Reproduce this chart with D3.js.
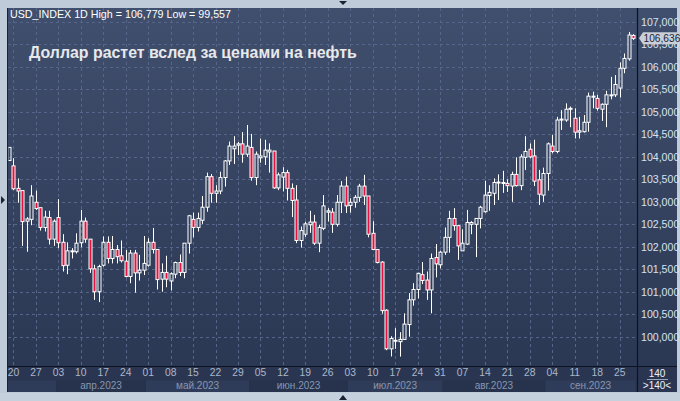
<!DOCTYPE html>
<html><head><meta charset="utf-8">
<script src="https://cdn.jsdelivr.net/npm/d3@7/dist/d3.min.js"></script>
<style>
html,body{margin:0;padding:0;background:#bfcbd9;overflow:hidden;}
svg{display:block;font-family:"Liberation Sans",Arial,sans-serif;}
</style></head><body>
<svg id="c" width="680" height="401"></svg>
<script>
// ---- data ----
const dates = [
"2023-03-17","2023-03-20","2023-03-21","2023-03-22","2023-03-23","2023-03-24","2023-03-27","2023-03-28","2023-03-29","2023-03-30","2023-03-31",
"2023-04-03","2023-04-04","2023-04-05","2023-04-06","2023-04-07","2023-04-10","2023-04-11","2023-04-12","2023-04-13","2023-04-14",
"2023-04-17","2023-04-18","2023-04-19","2023-04-20","2023-04-21","2023-04-24","2023-04-25","2023-04-26","2023-04-27","2023-04-28",
"2023-05-01","2023-05-02","2023-05-03","2023-05-04","2023-05-05","2023-05-08","2023-05-09","2023-05-10","2023-05-11","2023-05-12",
"2023-05-15","2023-05-16","2023-05-17","2023-05-18","2023-05-19","2023-05-22","2023-05-23","2023-05-24","2023-05-25","2023-05-26",
"2023-05-29","2023-05-30","2023-05-31",
"2023-06-01","2023-06-02","2023-06-05","2023-06-06","2023-06-07","2023-06-08","2023-06-09","2023-06-12","2023-06-13","2023-06-14",
"2023-06-15","2023-06-16","2023-06-19","2023-06-20","2023-06-21","2023-06-22","2023-06-23","2023-06-26","2023-06-27","2023-06-28",
"2023-06-29","2023-06-30",
"2023-07-03","2023-07-04","2023-07-05","2023-07-06","2023-07-07","2023-07-10","2023-07-11","2023-07-12","2023-07-13","2023-07-14",
"2023-07-17","2023-07-18","2023-07-19","2023-07-20","2023-07-21","2023-07-24","2023-07-25","2023-07-26","2023-07-27","2023-07-28",
"2023-07-31",
"2023-08-01","2023-08-02","2023-08-03","2023-08-04","2023-08-07","2023-08-08","2023-08-09","2023-08-10","2023-08-11","2023-08-14",
"2023-08-15","2023-08-16","2023-08-17","2023-08-18","2023-08-21","2023-08-22","2023-08-23","2023-08-24","2023-08-25","2023-08-28",
"2023-08-29","2023-08-30","2023-08-31",
"2023-09-01","2023-09-04","2023-09-05","2023-09-06","2023-09-07","2023-09-08","2023-09-11","2023-09-12","2023-09-13","2023-09-14",
"2023-09-15","2023-09-18","2023-09-19","2023-09-20","2023-09-21","2023-09-22","2023-09-25","2023-09-26","2023-09-27","2023-09-28"];

const openP = [103.92,103.80,103.30,103.25,102.57,102.61,102.99,102.87,102.43,102.65,102.17,
102.65,102.10,101.59,101.90,101.89,102.09,102.57,102.17,101.51,101.00,
101.59,102.10,101.74,101.94,101.80,101.68,101.34,101.86,101.42,101.48,
101.59,102.10,101.94,101.28,101.43,101.24,101.39,101.65,101.43,102.08,
102.61,102.43,102.59,102.88,103.56,103.19,103.24,103.54,103.91,104.18,
104.26,104.29,104.06,
104.21,103.54,103.98,104.00,104.11,104.13,103.31,103.55,103.65,103.30,
103.04,102.14,102.28,102.49,102.55,102.08,102.41,102.77,102.77,102.50,
102.99,103.35,
102.92,102.99,103.10,103.35,103.13,102.30,101.94,101.66,100.59,99.73,
99.90,99.89,99.94,100.27,100.82,101.05,101.38,101.26,101.04,101.76,
101.60,
101.88,102.21,102.63,102.47,101.91,102.06,102.50,102.50,102.63,102.78,
103.14,103.19,103.43,103.42,103.41,103.35,103.61,103.36,103.99,104.17,
104.02,103.49,103.15,
103.63,104.24,104.12,104.83,104.82,105.07,104.86,104.55,104.56,104.77,
105.34,105.30,105.06,105.17,105.37,105.38,105.53,105.97,106.18,106.70];

const highP = [104.21,103.97,103.52,103.25,102.66,103.37,103.25,102.87,102.80,102.80,102.61,
103.06,102.28,102.10,101.97,102.30,102.82,102.65,102.17,101.60,101.60,
102.23,102.23,102.24,102.04,102.14,101.93,101.93,101.93,101.82,102.24,
102.19,102.42,101.94,101.63,101.80,101.43,101.67,101.83,102.08,102.71,
102.76,102.76,103.13,103.65,103.62,103.37,103.67,103.93,104.34,104.46,
104.33,104.55,104.71,
104.51,104.12,104.41,104.38,104.30,104.13,103.65,103.77,103.71,103.41,
103.37,102.45,102.56,102.80,102.71,102.49,103.15,102.86,102.86,103.15,
103.46,103.56,
103.08,103.15,103.40,103.60,103.13,102.57,101.94,101.68,100.61,100.01,
100.19,100.10,100.52,100.97,101.19,101.42,101.66,101.45,101.85,102.06,
101.91,
102.43,102.80,102.86,102.47,102.39,102.82,102.57,102.63,102.91,103.47,
103.37,103.52,103.61,103.69,103.50,103.67,103.99,104.06,104.46,104.30,
104.38,103.71,103.76,
104.32,104.49,104.89,105.04,105.19,105.12,105.08,104.89,104.93,105.43,
105.45,105.38,105.19,105.47,105.78,105.82,106.10,106.30,106.779,106.73];

const lowP = [103.92,103.26,102.98,102.02,101.89,102.48,102.82,102.36,102.34,102.05,102.02,
101.97,101.45,101.39,101.74,101.85,101.99,102.09,101.42,100.82,100.77,
101.56,101.63,101.63,101.63,101.65,101.32,101.19,100.98,101.25,101.37,
101.56,101.85,101.05,101.00,101.10,101.03,101.30,101.35,101.30,101.85,
102.21,102.34,102.51,102.78,102.98,102.98,103.17,103.34,103.82,103.84,
104.04,103.87,104.00,
103.47,103.37,103.87,103.82,103.65,103.29,103.26,103.23,103.03,102.66,
102.08,101.98,102.22,102.31,102.04,101.88,102.37,102.56,102.31,102.45,
102.75,102.75,
102.76,102.87,103.00,102.93,102.21,101.93,101.63,100.51,99.70,99.56,
99.73,99.557,99.93,100.00,100.69,100.85,101.17,100.82,100.52,101.32,
101.52,
101.82,101.87,102.36,101.71,101.91,102.04,102.28,101.77,102.41,102.76,
102.80,102.93,103.04,103.20,103.22,103.00,103.34,103.26,103.71,103.97,
103.35,102.93,103.00,
103.25,104.08,104.08,104.60,104.78,104.66,104.41,104.41,104.54,104.56,
105.08,105.03,104.80,104.66,105.28,105.33,105.32,105.86,106.14,106.60];

const closeP = [104.21,103.29,103.24,102.56,102.62,103.13,102.85,102.43,102.66,102.17,102.57,
102.09,101.58,101.91,101.91,102.08,102.57,102.17,101.51,101.00,101.56,
102.10,101.74,101.94,101.78,101.69,101.34,101.86,101.42,101.48,101.63,
102.10,101.94,101.27,101.43,101.28,101.40,101.65,101.43,102.08,102.69,
102.43,102.63,102.88,103.56,103.19,103.24,103.54,103.91,104.24,104.24,
104.29,104.06,104.24,
103.54,104.06,104.02,104.15,104.15,103.31,103.60,103.65,103.30,103.03,
102.14,102.36,102.51,102.55,102.08,102.43,102.91,102.80,102.50,102.99,
103.35,102.91,
102.99,103.10,103.35,103.13,102.28,101.94,101.65,100.58,99.73,99.96,
99.92,99.94,100.28,100.82,101.05,101.41,101.25,101.04,101.74,101.62,
101.88,
102.21,102.63,102.47,102.02,102.08,102.54,102.54,102.63,102.88,103.15,
103.21,103.43,103.44,103.43,103.36,103.61,103.36,104.00,104.12,104.00,
103.46,103.17,103.63,
104.29,104.12,104.82,104.84,105.06,105.08,104.55,104.58,104.77,105.35,
105.35,105.08,105.17,105.38,105.38,105.61,105.97,106.19,106.71,106.636];

const priceTicks = [100,100.5,101,101.5,102,102.5,103,103.5,104,104.5,105,105.5,106,106.5,107];
const monthLabels = {"2023-03":"", "2023-04":"апр.2023","2023-05":"май.2023","2023-06":"июн.2023",
  "2023-07":"июл.2023","2023-08":"авг.2023","2023-09":"сен.2023"};
const headerText = "USD_INDEX 1D High = 106,779 Low = 99,557";
const titleText = "Доллар растет вслед за ценами на нефть";
const lastPrice = 106.636;
const barCount = "140";

// ---- layout ----
const svg = d3.select("#c");
const W = 680, H = 401;
const P = {l: 8, r: 637, t: 8, b: 366};
const axisR = 677, axisB = 392;
const parse = d3.utcParse("%Y-%m-%d");

const x = d3.scaleBand().domain(dates).range([6.755, 6.755 + 4.49 * dates.length]).padding(0);
const xc = d => x(d) + x.bandwidth() / 2;
const y = d3.scaleLinear().domain([100, 107]).range([336.7, 22]);
const fmt = d3.formatLocale({decimal: ",", thousands: " ", grouping: [3], currency: ["", ""]}).format(".3f");

const defs = svg.append("defs");
const grad = defs.append("linearGradient").attr("id", "bg").attr("x1", 0).attr("y1", 0).attr("x2", 0).attr("y2", 1);
grad.append("stop").attr("offset", 0).attr("stop-color", "#404f6d");
grad.append("stop").attr("offset", 1).attr("stop-color", "#2b3854");
defs.append("clipPath").attr("id", "clip").append("rect")
  .attr("x", P.l + 0.5).attr("y", P.t).attr("width", P.r - P.l - 0.5).attr("height", P.b - P.t);

// outer frame
svg.append("rect").attr("width", W).attr("height", H).attr("fill", "#bfcbd9");
svg.append("rect").attr("x", 0).attr("y", 393).attr("width", W).attr("height", 8).attr("fill", "#c6d1de");

// plot + right axis background
svg.append("rect").attr("x", P.l).attr("y", P.t).attr("width", axisR - P.l).attr("height", P.b - P.t).attr("fill", "url(#bg)");

// bottom axis background
svg.append("rect").attr("x", P.l).attr("y", P.b).attr("width", axisR - P.l).attr("height", axisB - P.b).attr("fill", "#2a3651");

// month bands
const months = d3.groups(dates, d => d.slice(0, 7));
const bandG = svg.append("g");
months.forEach(([m, ds], i) => {
  const x0 = Math.max(P.l, x(ds[0]));
  const x1 = Math.min(P.r, x(ds[ds.length - 1]) + x.bandwidth());
  bandG.append("rect").attr("x", x0).attr("y", 380.5).attr("width", x1 - x0).attr("height", axisB - 380.5)
    .attr("fill", i % 2 === 0 ? "#2f3c59" : "#27334d");
  if (monthLabels[m]) {
    bandG.append("text").attr("x", (x0 + x1) / 2).attr("y", 388.5).attr("text-anchor", "middle")
      .attr("font-size", 10).attr("fill", "#8896b0").text(monthLabels[m]);
  }
});

// grid
const grid = svg.append("g").attr("clip-path", "url(#clip)");
const mondays = dates.filter(d => parse(d).getUTCDay() === 1);
grid.selectAll("line.v").data(mondays).join("line")
  .attr("x1", d => Math.round(xc(d)) + 0.5).attr("x2", d => Math.round(xc(d)) + 0.5)
  .attr("y1", P.t).attr("y2", P.b)
  .attr("stroke", "#55668a").attr("stroke-dasharray", "3,3").attr("stroke-width", 1);
grid.selectAll("line.h").data(priceTicks).join("line")
  .attr("x1", P.l).attr("x2", P.r)
  .attr("y1", d => Math.round(y(d)) + 0.5).attr("y2", d => Math.round(y(d)) + 0.5)
  .attr("stroke", "#55668a").attr("stroke-dasharray", "3,3").attr("stroke-width", 1);

// candles
const cg = svg.append("g").attr("clip-path", "url(#clip)");
const idx = d3.range(dates.length);
const cx = i => Math.round(xc(dates[i])) + 0.5;
cg.selectAll("line.wu").data(idx).join("line")
  .attr("x1", cx).attr("x2", cx)
  .attr("y1", i => y(highP[i])).attr("y2", i => y(Math.max(openP[i], closeP[i])))
  .attr("stroke", "#ffffff").attr("stroke-width", 1);
cg.selectAll("line.wd").data(idx).join("line")
  .attr("x1", cx).attr("x2", cx)
  .attr("y1", i => y(Math.min(openP[i], closeP[i]))).attr("y2", i => y(lowP[i]))
  .attr("stroke", "#ffffff").attr("stroke-width", 1);
cg.selectAll("rect.b").data(idx).join("rect")
  .attr("x", i => cx(i) - 1.5)
  .attr("width", 3)
  .attr("y", i => y(Math.max(openP[i], closeP[i])))
  .attr("height", i => Math.max(1, Math.abs(y(openP[i]) - y(closeP[i]))))
  .attr("fill", i => closeP[i] < openP[i] ? "#e8103c" : "none")
  .attr("stroke", "#ffffff").attr("stroke-width", 1);

// separators
svg.append("line").attr("x1", P.r + 0.5).attr("x2", P.r + 0.5).attr("y1", P.t).attr("y2", axisB).attr("stroke", "#0d1320").attr("stroke-width", 1.2);
svg.append("line").attr("x1", P.l).attr("x2", axisR).attr("y1", P.b + 0.5).attr("y2", P.b + 0.5).attr("stroke", "#0d1320").attr("stroke-width", 1.2);
svg.append("line").attr("x1", P.l - 0.5).attr("x2", P.l - 0.5).attr("y1", P.t).attr("y2", axisB).attr("stroke", "#1b2233").attr("stroke-width", 1);

// right price axis
const yAxis = d3.axisRight(y).tickValues(priceTicks).tickFormat(fmt).tickSize(0).tickPadding(0);
const ya = svg.append("g").attr("transform", `translate(${P.r + 4},0)`).call(yAxis);
ya.select(".domain").remove();
ya.selectAll("text").attr("fill", "#d6e2f2").attr("font-size", 10.6).attr("font-family", "Liberation Sans, Arial, sans-serif");

// bottom day axis
const xAxis = d3.axisBottom(x).tickValues(mondays).tickFormat(d => d.slice(8, 10)).tickSize(0).tickPadding(0);
const xa = svg.append("g").attr("transform", `translate(0,${P.b + 3})`).call(xAxis);
xa.select(".domain").remove();
xa.selectAll("text").attr("fill", "#aab6cb").attr("font-size", 10.3).attr("font-family", "Liberation Sans, Arial, sans-serif");

// last price marker
const ly = y(lastPrice);
svg.append("path").attr("d", `M${P.r + 2},${ly} L${P.r + 6},${ly - 6} L${axisR},${ly - 6} L${axisR},${ly + 6} L${P.r + 6},${ly + 6} Z`)
  .attr("fill", "#c9cfd8");
svg.append("text").attr("x", P.r + 6.5).attr("y", ly + 4).attr("font-size", 10.2).attr("fill", "#1c2436").text(fmt(lastPrice));

// bar count box
svg.append("text").attr("x", 657).attr("y", 377).attr("text-anchor", "middle").attr("font-size", 10).attr("fill", "#eef2f8").text(barCount);
svg.append("line").attr("x1", 647).attr("x2", 668).attr("y1", 379.5).attr("y2", 379.5).attr("stroke", "#9aa6ba");
svg.append("text").attr("x", 657).attr("y", 389).attr("text-anchor", "middle").attr("font-size", 10).attr("fill", "#eef2f8").text(">" + barCount + "<");

// header & title
svg.append("text").attr("x", 10).attr("y", 18).attr("font-size", 10.7).attr("fill", "#ffffff").text(headerText);
svg.append("text").attr("x", 29).attr("y", 58).attr("font-size", 15.9).attr("font-weight", "bold").attr("fill", "#e8e8ea").text(titleText);

// frame markers
svg.append("path").attr("d", "M339,1 L347,1 L343,5 Z").attr("fill", "#1b2233");
svg.append("path").attr("d", "M339,400 L347,400 L343,395 Z").attr("fill", "#1b2233");
svg.append("path").attr("d", "M1,196 L1,204 L5,200 Z").attr("fill", "#1b2233");
</script>
</body></html>
